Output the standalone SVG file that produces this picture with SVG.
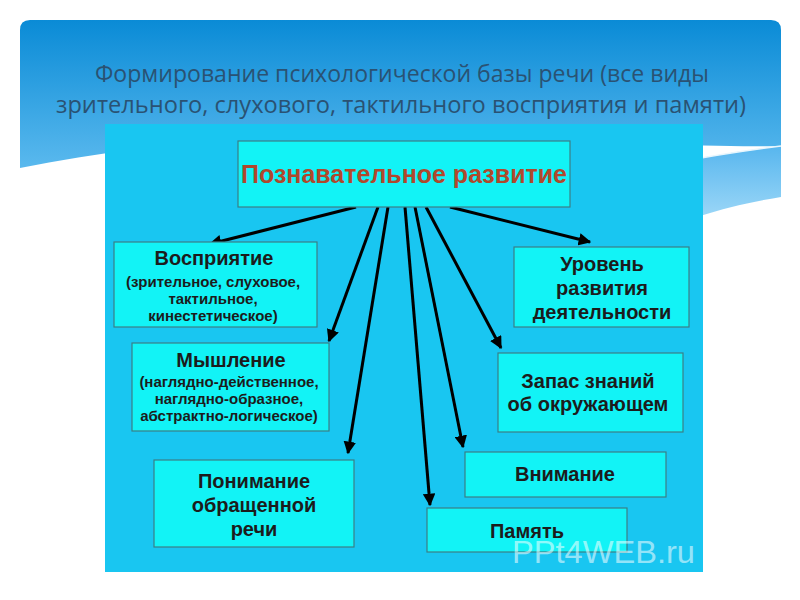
<svg xmlns="http://www.w3.org/2000/svg" width="800" height="600" viewBox="0 0 800 600">
  <defs>
    <linearGradient id="panelGrad" x1="0" y1="0" x2="0" y2="1">
      <stop offset="0" stop-color="#0a8bd6"/>
      <stop offset="1" stop-color="#5ab9ee"/>
    </linearGradient>
    <linearGradient id="bandGrad" x1="0" y1="0" x2="0" y2="1">
      <stop offset="0" stop-color="#57b6ee"/>
      <stop offset="1" stop-color="#9ad6f7"/>
    </linearGradient>
    <marker id="arrow" viewBox="0 0 10 10" refX="9" refY="5" markerWidth="4.2" markerHeight="4.2" orient="auto" markerUnits="strokeWidth">
      <path d="M0,0 L10,5 L0,10 Z" fill="#000"/>
    </marker>
    <style>
      .title { font-family: "Open Sans", "Noto Sans", sans-serif; font-size: 23px; fill: #2a5273; text-anchor: middle; }
      .box { fill: #12f3f6; stroke: #3b7f86; stroke-width: 1.2; }
      .main { font-family: "Liberation Sans", Arial, sans-serif; font-weight: bold; font-size: 25px; fill: #b0482c; text-anchor: middle; }
      .head { font-family: "Liberation Sans", Arial, sans-serif; font-weight: bold; font-size: 20px; fill: #1c1c1c; text-anchor: middle; }
      .sub { font-family: "Liberation Sans", Arial, sans-serif; font-weight: bold; font-size: 15px; fill: #1c1c1c; text-anchor: middle; }
      .conn { stroke: #000; stroke-width: 3; fill: none; marker-end: url(#arrow); }
      .mark { font-family: "Liberation Sans", Arial, sans-serif; font-size: 31px; fill: #ffffff; fill-opacity: 0.55; }
    </style>
  </defs>

  <rect x="0" y="0" width="800" height="600" fill="#ffffff"/>

  <!-- header panel -->
  <path d="M20,30 Q20,20 30,20 H771 Q781,20 781,30 V146 C620,150 300,110 20,168 Z" fill="url(#panelGrad)"/>
  <path d="M680,162 C720,154 750,150 781,146 V197 C750,202 725,208 700,216 Z" fill="url(#bandGrad)"/>
  <path d="M680,162 C720,154 750,150 781,146" stroke="#e8f6fd" stroke-width="1.5" fill="none"/>

  <text class="title" x="402" y="82" textLength="614" lengthAdjust="spacingAndGlyphs">Формирование психологической базы речи (все виды</text>
  <text class="title" x="401" y="113" textLength="690" lengthAdjust="spacingAndGlyphs">зрительного, слухового, тактильного восприятия и памяти)</text>

  <!-- picture area -->
  <rect x="105" y="124" width="598" height="448" fill="#19c6f1"/>

  <g id="connectors">
    <line class="conn" x1="356" y1="207" x2="210" y2="244"/>
    <line class="conn" x1="378" y1="207" x2="329" y2="341"/>
    <line class="conn" x1="388" y1="207" x2="348" y2="453"/>
    <line class="conn" x1="405" y1="207" x2="430" y2="505"/>
    <line class="conn" x1="415" y1="207" x2="463" y2="447"/>
    <line class="conn" x1="426" y1="207" x2="501" y2="348"/>
    <line class="conn" x1="450" y1="207" x2="590" y2="242"/>
  </g>

  <g id="node-main">
    <rect class="box" x="238" y="141" width="332" height="66"/>
    <text class="main" x="404" y="183" textLength="326" lengthAdjust="spacingAndGlyphs">Познавательное развитие</text>
  </g>

  <g id="node-perception">
    <rect class="box" x="114" y="242" width="203" height="85"/>
    <text class="head" x="214" y="265">Восприятие</text>
    <text class="sub" x="213" y="287">(зрительное, слуховое,</text>
    <text class="sub" x="213" y="304">тактильное,</text>
    <text class="sub" x="213" y="321">кинестетическое)</text>
  </g>

  <g id="node-activity">
    <rect class="box" x="514" y="247" width="175" height="80"/>
    <text class="head" x="602" y="271">Уровень</text>
    <text class="head" x="602" y="295">развития</text>
    <text class="head" x="602" y="319">деятельности</text>
  </g>

  <g id="node-thinking">
    <rect class="box" x="132" y="343" width="197" height="88"/>
    <text class="head" x="231" y="367">Мышление</text>
    <text class="sub" x="229" y="387">(наглядно-действенное,</text>
    <text class="sub" x="229" y="404">наглядно-образное,</text>
    <text class="sub" x="229" y="421">абстрактно-логическое)</text>
  </g>

  <g id="node-knowledge">
    <rect class="box" x="498" y="353" width="185" height="79"/>
    <text class="head" x="588" y="388">Запас знаний</text>
    <text class="head" x="588" y="411">об окружающем</text>
  </g>

  <g id="node-understanding">
    <rect class="box" x="154" y="460" width="200" height="87"/>
    <text class="head" x="254" y="488">Понимание</text>
    <text class="head" x="254" y="512">обращенной</text>
    <text class="head" x="254" y="536">речи</text>
  </g>

  <g id="node-attention">
    <rect class="box" x="465" y="452" width="201" height="45"/>
    <text class="head" x="565" y="481">Внимание</text>
  </g>

  <g id="node-memory">
    <rect class="box" x="427" y="508" width="200" height="44"/>
    <text class="head" x="527" y="538">Память</text>
  </g>

  <text class="mark" x="512" y="563" textLength="183" lengthAdjust="spacingAndGlyphs">PPt4WEB.ru</text>
</svg>
